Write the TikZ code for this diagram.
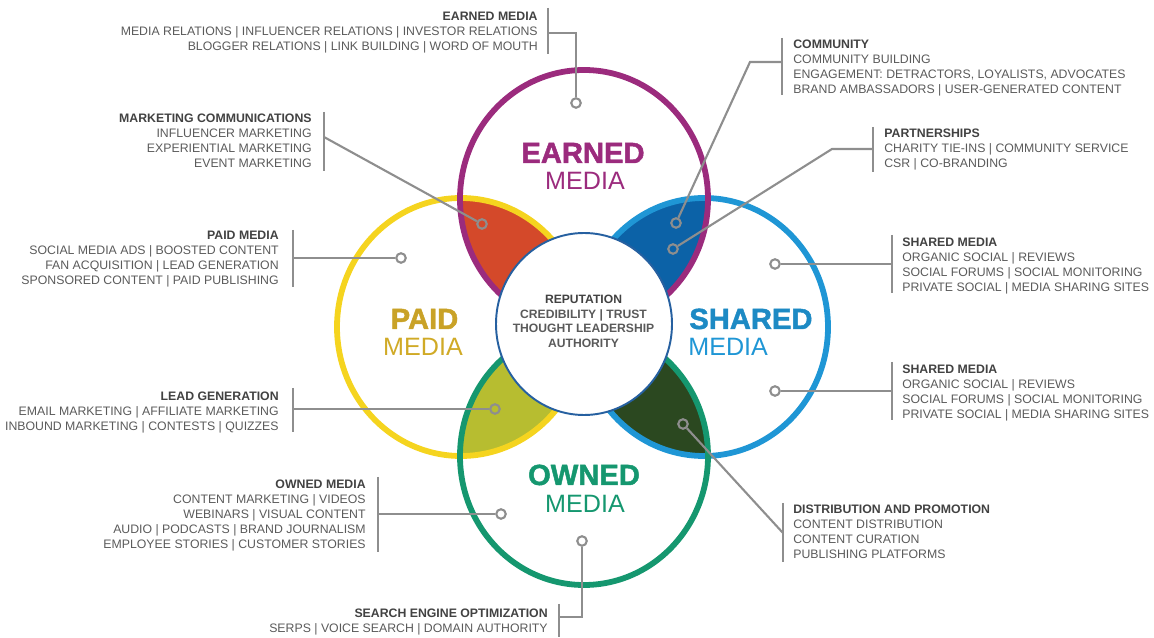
\documentclass[tikz,border=0pt]{standalone}
\usepackage{fontspec}
\setmainfont{Liberation Sans}
\newfontfamily\heavy[BoldFeatures={FakeBold=1.6}]{Liberation Sans}
\usepackage{xcolor}
\usetikzlibrary{positioning,calc}
\definecolor{ce}{HTML}{9B2B7D}
\definecolor{cp}{HTML}{F5D41F}
\definecolor{cs}{HTML}{1F96D5}
\definecolor{co}{HTML}{15976F}
\definecolor{lep}{HTML}{D4492A}
\definecolor{les}{HTML}{0C62A7}
\definecolor{lpo}{HTML}{B7BD30}
\definecolor{lso}{HTML}{2B4820}
\definecolor{hub}{HTML}{2660A0}
\definecolor{tp}{HTML}{C9A227}
\definecolor{txt}{HTML}{5A5A5A}
\definecolor{hd}{HTML}{424242}
\definecolor{wire}{HTML}{8E8E8E}
\newcommand{\hd}[1]{\textcolor{hd}{\textbf{#1}}}
\begin{document}
\begin{tikzpicture}[x=0.02cm,y=-0.02cm,
 ring/.style={line width=3.3pt},
 rad/.style={x radius=124,y radius=129},
 big/.style={font=\fontsize{16.6}{18}\selectfont\heavy\bfseries,anchor=base,inner sep=0pt},
 sub/.style={font=\fontsize{14.3}{16}\selectfont,anchor=base,inner sep=0pt},
 lbl/.style={font=\fontsize{7}{8.5}\selectfont,text=txt,inner sep=0pt},
 lbll/.style={lbl,align=right,anchor=north east},
 lblr/.style={lbl,align=left,anchor=north west},
 bar/.style={draw=wire,line width=0.8pt},
 wire/.style={draw=wire,line width=1.2pt},
 dot/.style={circle,draw=wire,line width=1.2pt,minimum size=0.19cm,inner sep=0pt}]
\useasboundingbox (0,0) rectangle (1154,638);
\coordinate (E) at (584,199);
\coordinate (P) at (461,327);
\coordinate (S) at (704,327);
\coordinate (O) at (584,456);
\begin{scope}
\clip (E) ellipse [rad];
\fill[lep] (P) ellipse [rad];
\fill[les] (S) ellipse [rad];
\end{scope}
\begin{scope}
\clip (O) ellipse [rad];
\fill[lpo] (P) ellipse [rad];
\fill[lso] (S) ellipse [rad];
\end{scope}
\draw[ring,cp] (P) ellipse [rad];
\draw[ring,cs] (S) ellipse [rad];
\draw[ring,co] (O) ellipse [rad];
\draw[ring,ce] (E) ellipse [rad];
\draw[hub,fill=white,line width=1.1pt] (584,324) ellipse [x radius=88,y radius=91];
\node[font=\fontsize{6.9}{8.2}\selectfont\bfseries,text=txt,align=center,anchor=north,inner sep=0pt] (rep) at (583.5,295)
 {\textcolor{hd}{REPUTATION}\\CREDIBILITY | TRUST\\THOUGHT LEADERSHIP\\AUTHORITY};
\node[big,ce] (ea) at (583,163) {EARNED};
\node[sub,ce] (eb) at (585,190) {MEDIA};
\node[big,tp] (pa) at (424.5,329) {PAID};
\node[sub,tp!85!cp] (pb) at (423,356) {MEDIA};
\node[big,cs!92!black,anchor=base west] (sa) at (689,329) {SHARED};
\node[sub,cs,anchor=base west] (sb) at (688,356) {MEDIA};
\node[big,co] (oa) at (584,485) {OWNED};
\node[sub,co] (ob) at (585,513) {MEDIA};
\node[lbll] (t1) at (538,11.5) {\hd{EARNED MEDIA}\\MEDIA RELATIONS | INFLUENCER RELATIONS | INVESTOR RELATIONS\\BLOGGER RELATIONS | LINK BUILDING | WORD OF MOUTH};
\node[lbll] (t2) at (312,113.5) {\hd{MARKETING COMMUNICATIONS}\\INFLUENCER MARKETING\\EXPERIENTIAL MARKETING\\EVENT MARKETING};
\node[lbll] (t3) at (279,230.5) {\hd{PAID MEDIA}\\SOCIAL MEDIA ADS | BOOSTED CONTENT\\FAN ACQUISITION | LEAD GENERATION\\SPONSORED CONTENT | PAID PUBLISHING};
\node[lbll] (t4) at (279,391.5) {\hd{LEAD GENERATION}\\EMAIL MARKETING | AFFILIATE MARKETING\\INBOUND MARKETING | CONTESTS | QUIZZES};
\node[lbll] (t5) at (366,479.5) {\hd{OWNED MEDIA}\\CONTENT MARKETING | VIDEOS\\WEBINARS | VISUAL CONTENT\\AUDIO | PODCASTS | BRAND JOURNALISM\\EMPLOYEE STORIES | CUSTOMER STORIES};
\node[lbll] (t6) at (548,608.5) {\hd{SEARCH ENGINE OPTIMIZATION}\\SERPS | VOICE SEARCH | DOMAIN AUTHORITY};
\node[lblr] (t7) at (793,39.5) {\hd{COMMUNITY}\\COMMUNITY BUILDING\\ENGAGEMENT: DETRACTORS, LOYALISTS, ADVOCATES\\BRAND AMBASSADORS | USER-GENERATED CONTENT};
\node[lblr] (t8) at (884,128.5) {\hd{PARTNERSHIPS}\\CHARITY TIE-INS | COMMUNITY SERVICE\\CSR | CO-BRANDING};
\node[lblr] (t9) at (902,237.5) {\hd{SHARED MEDIA}\\ORGANIC SOCIAL | REVIEWS\\SOCIAL FORUMS | SOCIAL MONITORING\\PRIVATE SOCIAL | MEDIA SHARING SITES};
\node[lblr] (t10) at (902,364.5) {\hd{SHARED MEDIA}\\ORGANIC SOCIAL | REVIEWS\\SOCIAL FORUMS | SOCIAL MONITORING\\PRIVATE SOCIAL | MEDIA SHARING SITES};
\node[lblr] (t11) at (793,504.5) {\hd{DISTRIBUTION AND PROMOTION}\\CONTENT DISTRIBUTION\\CONTENT CURATION\\PUBLISHING PLATFORMS};
\draw[bar] (548,8) -- (548,54);
\draw[bar] (324,112) -- (324,171);
\draw[bar] (293,230) -- (293,287);
\draw[bar] (293,388) -- (293,432);
\draw[bar] (378,477) -- (378,552);
\draw[bar] (559,604) -- (559,637);
\draw[bar] (782,38) -- (782,95);
\draw[bar] (873,127) -- (873,172);
\draw[bar] (892,235) -- (892,293);
\draw[bar] (892,362) -- (892,420);
\draw[bar] (783,503) -- (783,562);
\coordinate (b1) at (548,33);
\coordinate (b2) at (324,137);
\coordinate (b3) at (293,258);
\coordinate (b4) at (293,409);
\coordinate (b5) at (378,514);
\coordinate (b6) at (559,617);
\coordinate (b7) at (782,62);
\coordinate (k7) at (750,62);
\coordinate (b8) at (873,149);
\coordinate (k8) at (832,149);
\coordinate (b9) at (892,264);
\coordinate (b10) at (892,391);
\coordinate (b11) at (783,533);
\node[dot] (m1) at (576,103) {};
\node[dot] (m2) at (482,224) {};
\node[dot] (m3) at (401,258) {};
\node[dot] (m4) at (495,409) {};
\node[dot] (m5) at (501,514) {};
\node[dot] (m6) at (582,541) {};
\node[dot] (m7) at (676,223) {};
\node[dot] (m8) at (673,249) {};
\node[dot] (m9) at (775,264) {};
\node[dot] (m10) at (775,391) {};
\node[dot] (m11) at (683,424) {};
\draw[wire] (b1) -| (m1);
\draw[wire] (b2) -- (m2);
\draw[wire] (b3) -- (m3);
\draw[wire] (b4) -- (m4);
\draw[wire] (b5) -- (m5);
\draw[wire] (b6) -| (m6);
\draw[wire] (b7) -- (k7) -- (m7);
\draw[wire] (b8) -- (k8) -- (m8);
\draw[wire] (b9) -- (m9);
\draw[wire] (b10) -- (m10);
\draw[wire] (b11) -- (m11);
\end{tikzpicture}
\end{document}
